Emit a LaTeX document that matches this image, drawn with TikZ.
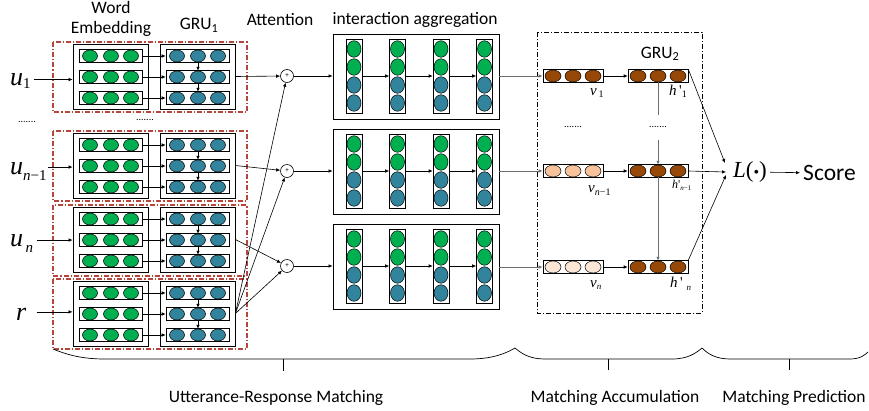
\documentclass[tikz,border=0pt]{standalone}
\usepackage{fontspec}
\setmainfont{Carlito}
\newfontfamily\tms{Liberation Serif}
\usetikzlibrary{arrows.meta,calc,shapes.geometric}
\definecolor{cgreen}{HTML}{00B050}
\definecolor{cteal}{HTML}{31849B}
\definecolor{cbrown}{HTML}{974706}
\definecolor{clight}{HTML}{F8C29A}
\definecolor{cpale}{HTML}{FCE6D6}
\definecolor{cred}{HTML}{B8453C}
\definecolor{cgray}{HTML}{6E6E6E}
% italic letter with a lowered subscript
\newcommand\mysub[4]{{\tms\itshape #1}\raisebox{#3}{\fontsize{#4}{#4}\selectfont\tms #2}}
\begin{document}
\begin{tikzpicture}[x=1pt,y=-1pt,
  lab/.style={font=\fontsize{17.5}{18}\selectfont, inner sep=0},
  mlab/.style={font=\fontsize{26}{26}\selectfont, inner sep=0},
  slab/.style={font=\fontsize{15}{15}\selectfont, inner sep=0},
  dots/.style={font=\fontsize{10}{10}\selectfont, inner sep=0},
  bigbox/.style={draw=black, line width=0.8pt, fill=white, inner sep=0},
  rowbox/.style={draw=black, line width=0.6pt, fill=white, inner sep=0, minimum width=63pt, minimum height=13pt},
  colbox/.style={draw=black, line width=0.6pt, fill=white, inner sep=0, minimum width=16pt, minimum height=74pt},
  mrow/.style={draw=black, line width=0.6pt, fill=white, inner sep=0, minimum width=60pt, minimum height=13pt},
  ell/.style={ellipse, draw=black, line width=0.5pt, inner sep=0, minimum width=15pt, minimum height=12pt},
  cell/.style={ellipse, draw=black, line width=0.5pt, inner sep=0, minimum width=14pt, minimum height=16.5pt},
  attc/.style={circle, draw=black, line width=0.6pt, fill=white, inner sep=0, minimum size=13pt, font=\fontsize{7}{7}\selectfont},
  arr/.style={-{Latex[length=4pt,width=3.5pt]}, line width=0.6pt},
  garr/.style={-{Latex[length=4pt,width=3.5pt]}, line width=0.8pt, draw=cgray},
  gline/.style={line width=0.8pt, draw=cgray},
  reddash/.style={draw=cred, dash pattern=on 5pt off 2pt on 1.2pt off 2pt, line width=1.2pt},
  blackdash/.style={draw=black, dash pattern=on 5pt off 2pt on 1pt off 2pt, line width=0.7pt},
  bracel/.style={line width=0.7pt, draw=black}
]
\fill[white] (0,0) rectangle (869,410);
\useasboundingbox (0,0) rectangle (869,410);

% ---------- red dash-dot frames ----------
\draw[reddash] (53,42) rectangle (247,112);
\draw[reddash] (53,131) rectangle (247,201);
\draw[reddash] (53,205) rectangle (247,276);
\draw[reddash] (53,279) rectangle (247,349);

% ---------- top labels ----------
\node[lab, anchor=base] (tword) at (111,13) {Word};
\node[lab, anchor=base] (temb) at (111,33) {Embedding};
\node[lab, anchor=base] (tgru1) at (199,29.5) {GRU\textsubscript{1}};
\node[lab, anchor=base] (tatt) at (280,25) {Attention};
\node[lab, anchor=base] (tia) at (415,24) {interaction aggregation};
\node[lab, anchor=base] (tgru2) at (660,58) {GRU\textsubscript{2}};

% ---------- left blocks ----------
\foreach \b/\t in {1/44,2/133,3/207,4/281}{
  \node[bigbox, minimum width=75pt, minimum height=65pt] (we\b) at (110.5,\t+32.5) {};
  \node[bigbox, minimum width=75pt, minimum height=65pt] (gru\b) at (197.5,\t+32.5) {};
  \foreach \r in {1,2,3}{
    \pgfmathsetmacro{\y}{\t+12+21*(\r-1)}
    \node[rowbox] (we\b-\r) at (110.5,\y) {};
    \node[rowbox] (gru\b-\r) at (197.5,\y) {};
    \foreach \x [count=\k] in {90,111,131}{
      \node[ell, fill=cgreen] (we\b-\r-\k) at (\x,\y) {};
    }
    \foreach \x [count=\k] in {177,198,218}{
      \node[ell, fill=cteal] (gru\b-\r-\k) at (\x,\y) {};
    }
    \draw[arr] (we\b-\r) -- (gru\b-\r);
  }
  \draw[arr] (gru\b-1-2) -- (gru\b-2-2);
  \draw[arr] (gru\b-2-2) -- (gru\b-3-2);
}

% inputs
\node[mlab, anchor=base west] (in1) at (10,85) {\mysub{u}{1}{-3pt}{15}};
\node[mlab, anchor=base west] (in2) at (10,174) {\mysub{u}{\itshape n\upshape−1}{-6pt}{15}};
\node[mlab, anchor=base west] (in3) at (10,246) {\mysub{u}{\,\itshape n}{-6pt}{15}};
\node[mlab, anchor=base west] (in4) at (16,320) {{\tms\itshape r}};
\draw[arr] (in1.east) ++(3,-1) coordinate (in1s) -- (in1s -| we1.west);
\draw[arr] (in2.east) ++(1,-4) coordinate (in2s) -- (in2s -| we2.west);
\draw[arr] (in3.east) ++(4,-3) coordinate (in3s) -- (in3s -| we3.west);
\draw[arr] (in4.east) ++(10,-2) coordinate (in4s) -- (in4s -| we4.west);

\node[dots] (dl1) at (27,122) {.......};
\node[dots] (dl2) at (145,120) {.......};

% ---------- attention ----------
\foreach \b/\y in {1/76,2/171,3/266}{
  \node[attc] (c\b) at (287,\y) {+};
}
\draw[arr] (gru1.east) -- (c1);
\draw[arr] (gru2.east) -- (c2);
\draw[arr] (gru3.east) -- (c3);
\coordinate (fan) at (gru4.east);
\draw[arr] (fan) -- (c1);
\draw[arr] (fan) -- (c2);
\draw[arr] (fan) -- (c3);

% ---------- interaction aggregation ----------
\foreach \b/\t in {1/34,2/129,3/224}{
  \node[bigbox, minimum width=166pt, minimum height=85pt] (ia\b) at (416,\t+42.5) {};
  \foreach \c/\x in {1/354,2/397.5,3/441,4/484.5}{
    \node[colbox] (ia\b-\c) at (\x,\t+42) {};
    \foreach \k/\dy/\col in {1/15/cgreen,2/33/cgreen,3/51/cteal,4/69/cteal}{
      \node[cell, fill=\col] (ia\b-\c-\k) at (\x,\t+\dy) {};
    }
  }
  \foreach \c/\d in {1/2,2/3,3/4}{
    \draw[arr] (ia\b-\c) -- (ia\b-\d);
  }
  \draw[arr] (c\b) -- (c\b -| ia\b.west);
}

% ---------- matching accumulation ----------
\draw[blackdash] (537,32) rectangle (702,313);
\foreach \i/\y/\vc in {1/76/cbrown,2/171/clight,3/267/cpale}{
  \node[mrow] (v\i) at (573,\y) {};
  \node[mrow] (h\i) at (658,\y) {};
  \foreach \x [count=\k] in {553,573,593}{
    \node[ell, fill=\vc, minimum width=16pt] (v\i-\k) at (\x,\y) {};
  }
  \foreach \x [count=\k] in {638,658,678}{
    \node[ell, fill=cbrown, minimum width=16pt] (h\i-\k) at (\x,\y) {};
  }
  \draw[arr] (v\i) -- (h\i);
  \draw[garr] (ia\i.east |- v\i) -- (v\i);
}
\node[slab, anchor=base west] (lv1) at (590,95) {\mysub{v}{\,1}{-2pt}{10}};
\node[slab, anchor=base west] (lh1) at (669,95) {{\tms\itshape h}\,{\tms '}\raisebox{-2pt}{\fontsize{10}{10}\selectfont\tms 1}};
\node[slab, anchor=base west] (lv2) at (588,192) {\mysub{v}{\itshape n\upshape−1}{-3pt}{10}};
\node[font=\fontsize{12}{12}\selectfont, inner sep=0, anchor=base west] (lh2) at (672,188) {{\tms\itshape h}{\tms '}\raisebox{-2pt}{\fontsize{7}{7}\selectfont\tms\itshape n\upshape−1}};
\node[slab, anchor=base west] (lv3) at (590,287) {\mysub{v}{\itshape n}{-2pt}{9}};
\node[slab, anchor=base west] (lh3) at (670,287) {{\tms\itshape h}\,{\tms '}\raisebox{-3pt}{\fontsize{9}{9}\selectfont\tms\itshape\, n}};

\coordinate (hd1) at (658,115);
\coordinate (hd2) at (658,140);
\draw[gline] (h1-2) -- (hd1);
\draw[garr] (hd2) -- (h2-2);
\draw[garr] (h2-2) -- (h3-2);
\node[dots] (dm1) at (573,127) {.......};
\node[dots] (dm2) at (658,127) {.......};

% ---------- prediction ----------
\node[font=\fontsize{23}{23}\selectfont, inner sep=0] (L) at (750,172) {{\tms\itshape L}{\tms(}{\fontsize{16}{16}\selectfont\tms •}{\tms)}};
\node[font=\fontsize{23.5}{24}\selectfont, inner sep=0, anchor=west] (score) at (803,173) {Score};
\draw[arr, shorten <=3pt, shorten >=3pt] (L) -- (score);
\coordinate (Lin1) at (725,163);
\coordinate (Lin2) at (726,172);
\coordinate (Lin3) at (726,175);
\draw[arr] (h1.north east) -- (Lin1);
\draw[arr] (h2.east) -- (Lin2);
\draw[arr] (h3.north east) -- (Lin3);

% ---------- braces ----------
\draw[bracel] (53,349) .. controls (70,356) and (85,359) .. (105,359) -- (470,359) .. controls (495,359) and (508,352) .. (515,348);
\draw[bracel] (515,348) .. controls (522,354) and (530,359) .. (545,359) -- (672,359) .. controls (688,359) and (696,353) .. (702,348);
\draw[bracel] (702,348) .. controls (708,354) and (716,359) .. (730,359) -- (850,359) .. controls (860,359) and (865,355) .. (868,352);
\draw[bracel] (283,359) -- (283,371);
\draw[bracel] (608,359) -- (608,370);
\draw[bracel] (789,359) -- (789,370);

\node[lab] (b1) at (276,398) {Utterance-Response Matching};
\node[lab] (b2) at (615,398) {Matching Accumulation};
\node[lab] (b3) at (794,398) {Matching Prediction};
\end{tikzpicture}
\end{document}
